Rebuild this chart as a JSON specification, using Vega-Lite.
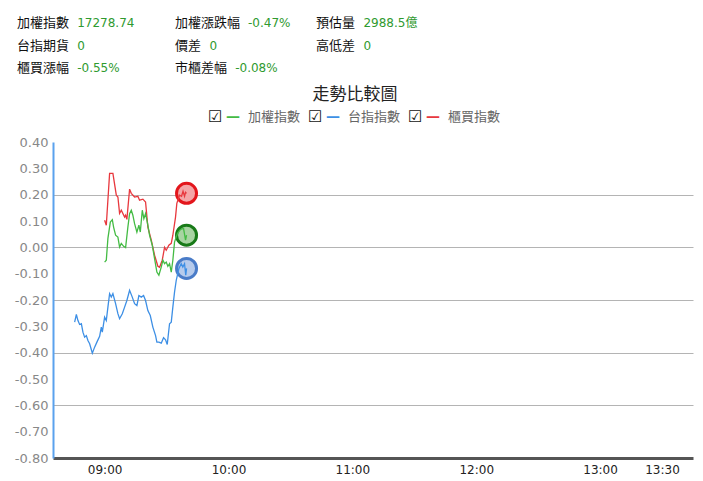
{
  "$schema": "https://vega.github.io/schema/vega-lite/v6.json",
  "autosize": "none",
  "width": 640,
  "height": 316,
  "padding": {"left": 53, "top": 142, "right": 10, "bottom": 23},
  "background": "white",
  "title": {
    "text": "走勢比較圖",
    "font": "Noto Sans CJK TC",
    "fontSize": 17,
    "fontWeight": "normal",
    "color": "#222",
    "anchor": "middle",
    "frame": "group",
    "dx": -18,
    "offset": 30,
    "dy": 117
  },
  "datasets": {
    "trend": [
      {"series": "櫃買指數", "t": "09:00:00", "v": 0.103},
      {"series": "櫃買指數", "t": "09:00:49", "v": 0.084},
      {"series": "櫃買指數", "t": "09:02:25", "v": 0.281},
      {"series": "櫃買指數", "t": "09:04:01", "v": 0.281},
      {"series": "櫃買指數", "t": "09:05:40", "v": 0.198},
      {"series": "櫃買指數", "t": "09:06:26", "v": 0.191},
      {"series": "櫃買指數", "t": "09:07:15", "v": 0.129},
      {"series": "櫃買指數", "t": "09:08:05", "v": 0.141},
      {"series": "櫃買指數", "t": "09:09:41", "v": 0.115},
      {"series": "櫃買指數", "t": "09:10:10", "v": 0.122},
      {"series": "櫃買指數", "t": "09:10:47", "v": 0.106},
      {"series": "櫃買指數", "t": "09:12:06", "v": 0.221},
      {"series": "櫃買指數", "t": "09:12:55", "v": 0.205},
      {"series": "櫃買指數", "t": "09:14:31", "v": 0.191},
      {"series": "櫃買指數", "t": "09:16:07", "v": 0.194},
      {"series": "櫃買指數", "t": "09:16:56", "v": 0.179},
      {"series": "櫃買指數", "t": "09:18:32", "v": 0.183},
      {"series": "櫃買指數", "t": "09:19:50", "v": 0.172},
      {"series": "櫃買指數", "t": "09:20:57", "v": 0.077},
      {"series": "櫃買指數", "t": "09:22:36", "v": 0.027},
      {"series": "櫃買指數", "t": "09:24:12", "v": -0.030},
      {"series": "櫃買指數", "t": "09:25:48", "v": -0.072},
      {"series": "櫃買指數", "t": "09:26:37", "v": -0.076},
      {"series": "櫃買指數", "t": "09:27:55", "v": -0.049},
      {"series": "櫃買指數", "t": "09:29:02", "v": 0.000},
      {"series": "櫃買指數", "t": "09:29:51", "v": -0.011},
      {"series": "櫃買指數", "t": "09:31:07", "v": 0.008},
      {"series": "櫃買指數", "t": "09:32:17", "v": 0.015},
      {"series": "櫃買指數", "t": "09:33:03", "v": 0.046},
      {"series": "櫃買指數", "t": "09:34:21", "v": 0.115},
      {"series": "櫃買指數", "t": "09:34:59", "v": 0.167},
      {"series": "櫃買指數", "t": "09:36:17", "v": 0.198},
      {"series": "櫃買指數", "t": "09:37:16", "v": 0.194},
      {"series": "櫃買指數", "t": "09:37:59", "v": 0.213},
      {"series": "櫃買指數", "t": "09:38:43", "v": 0.194},
      {"series": "櫃買指數", "t": "09:39:12", "v": 0.209},
      {"series": "櫃買指數", "t": "09:39:41", "v": 0.205},
      {"series": "加權指數", "t": "09:00:00", "v": -0.056},
      {"series": "加權指數", "t": "09:00:49", "v": -0.049},
      {"series": "加權指數", "t": "09:01:36", "v": 0.034},
      {"series": "加權指數", "t": "09:02:46", "v": 0.096},
      {"series": "加權指數", "t": "09:03:44", "v": 0.105},
      {"series": "加權指數", "t": "09:04:21", "v": 0.077},
      {"series": "加權指數", "t": "09:05:19", "v": 0.046},
      {"series": "加權指數", "t": "09:06:26", "v": 0.039},
      {"series": "加權指數", "t": "09:07:15", "v": 0.001},
      {"series": "加權指數", "t": "09:08:05", "v": 0.015},
      {"series": "加權指數", "t": "09:09:12", "v": 0.004},
      {"series": "加權指數", "t": "09:10:10", "v": -0.001},
      {"series": "加權指數", "t": "09:11:16", "v": 0.077},
      {"series": "加權指數", "t": "09:12:06", "v": 0.128},
      {"series": "加權指數", "t": "09:12:55", "v": 0.141},
      {"series": "加權指數", "t": "09:13:41", "v": 0.122},
      {"series": "加權指數", "t": "09:14:31", "v": 0.090},
      {"series": "加權指數", "t": "09:15:38", "v": 0.058},
      {"series": "加權指數", "t": "09:16:36", "v": 0.084},
      {"series": "加權指數", "t": "09:17:17", "v": 0.058},
      {"series": "加權指數", "t": "09:18:15", "v": 0.141},
      {"series": "加權指數", "t": "09:19:01", "v": 0.109},
      {"series": "加權指數", "t": "09:19:50", "v": 0.128},
      {"series": "加權指數", "t": "09:20:57", "v": 0.084},
      {"series": "加權指數", "t": "09:21:46", "v": 0.046},
      {"series": "加權指數", "t": "09:23:05", "v": 0.008},
      {"series": "加權指數", "t": "09:24:12", "v": -0.043},
      {"series": "加權指數", "t": "09:25:19", "v": -0.094},
      {"series": "加權指數", "t": "09:26:17", "v": -0.106},
      {"series": "加權指數", "t": "09:27:26", "v": -0.075},
      {"series": "加權指數", "t": "09:28:13", "v": -0.049},
      {"series": "加權指數", "t": "09:29:02", "v": -0.062},
      {"series": "加權指數", "t": "09:29:51", "v": -0.056},
      {"series": "加權指數", "t": "09:30:38", "v": -0.072},
      {"series": "加權指數", "t": "09:31:27", "v": -0.062},
      {"series": "加權指數", "t": "09:32:17", "v": -0.094},
      {"series": "加權指數", "t": "09:33:03", "v": -0.049},
      {"series": "加權指數", "t": "09:33:52", "v": 0.020},
      {"series": "加權指數", "t": "09:35:19", "v": 0.053},
      {"series": "加權指數", "t": "09:36:47", "v": 0.068},
      {"series": "加權指數", "t": "09:38:14", "v": 0.072},
      {"series": "加權指數", "t": "09:39:12", "v": 0.027},
      {"series": "加權指數", "t": "09:39:41", "v": 0.046},
      {"series": "台指指數", "t": "08:45:29", "v": -0.284},
      {"series": "台指指數", "t": "08:46:19", "v": -0.255},
      {"series": "台指指數", "t": "08:47:05", "v": -0.278},
      {"series": "台指指數", "t": "08:47:54", "v": -0.293},
      {"series": "台指指數", "t": "08:48:44", "v": -0.290},
      {"series": "台指指數", "t": "08:49:30", "v": -0.322},
      {"series": "台指指數", "t": "08:50:19", "v": -0.341},
      {"series": "台指指數", "t": "08:51:09", "v": -0.335},
      {"series": "台指指數", "t": "08:51:55", "v": -0.354},
      {"series": "台指指數", "t": "08:52:45", "v": -0.366},
      {"series": "台指指數", "t": "08:54:03", "v": -0.402},
      {"series": "台指指數", "t": "08:55:10", "v": -0.379},
      {"series": "台指指數", "t": "08:56:16", "v": -0.360},
      {"series": "台指指數", "t": "08:57:35", "v": -0.338},
      {"series": "台指指數", "t": "08:58:24", "v": -0.303},
      {"series": "台指指數", "t": "08:58:53", "v": -0.322},
      {"series": "台指指數", "t": "09:00:00", "v": -0.265},
      {"series": "台指指數", "t": "09:00:49", "v": -0.278},
      {"series": "台指指數", "t": "09:01:36", "v": -0.227},
      {"series": "台指指數", "t": "09:02:25", "v": -0.176},
      {"series": "台指指數", "t": "09:03:14", "v": -0.189},
      {"series": "台指指數", "t": "09:04:01", "v": -0.176},
      {"series": "台指指數", "t": "09:05:19", "v": -0.214},
      {"series": "台指指數", "t": "09:06:26", "v": -0.252},
      {"series": "台指指數", "t": "09:07:15", "v": -0.271},
      {"series": "台指指數", "t": "09:08:34", "v": -0.252},
      {"series": "台指指數", "t": "09:09:41", "v": -0.227},
      {"series": "台指指數", "t": "09:10:47", "v": -0.202},
      {"series": "台指指數", "t": "09:12:06", "v": -0.163},
      {"series": "台指指數", "t": "09:13:24", "v": -0.189},
      {"series": "台指指數", "t": "09:14:31", "v": -0.214},
      {"series": "台指指數", "t": "09:15:38", "v": -0.221},
      {"series": "台指指數", "t": "09:16:36", "v": -0.183},
      {"series": "台指指數", "t": "09:17:46", "v": -0.189},
      {"series": "台指指數", "t": "09:18:52", "v": -0.183},
      {"series": "台指指數", "t": "09:19:50", "v": -0.202},
      {"series": "台指指數", "t": "09:20:57", "v": -0.240},
      {"series": "台指指數", "t": "09:22:07", "v": -0.259},
      {"series": "台指指數", "t": "09:23:22", "v": -0.303},
      {"series": "台指指數", "t": "09:24:41", "v": -0.335},
      {"series": "台指指數", "t": "09:25:19", "v": -0.360},
      {"series": "台指指數", "t": "09:26:17", "v": -0.360},
      {"series": "台指指數", "t": "09:27:26", "v": -0.364},
      {"series": "台指指數", "t": "09:28:33", "v": -0.343},
      {"series": "台指指數", "t": "09:29:31", "v": -0.351},
      {"series": "台指指數", "t": "09:30:20", "v": -0.369},
      {"series": "台指指數", "t": "09:31:27", "v": -0.290},
      {"series": "台指指數", "t": "09:32:17", "v": -0.284},
      {"series": "台指指數", "t": "09:33:03", "v": -0.227},
      {"series": "台指指數", "t": "09:33:52", "v": -0.170},
      {"series": "台指指數", "t": "09:34:42", "v": -0.125},
      {"series": "台指指數", "t": "09:35:57", "v": -0.081},
      {"series": "台指指數", "t": "09:37:07", "v": -0.062},
      {"series": "台指指數", "t": "09:37:53", "v": -0.075},
      {"series": "台指指數", "t": "09:38:43", "v": -0.062},
      {"series": "台指指數", "t": "09:39:18", "v": -0.106},
      {"series": "台指指數", "t": "09:39:41", "v": -0.080}
    ],
    "header": [
      {"row": 0, "col": 0, "label": "加權指數", "value": "17278.74"},
      {"row": 0, "col": 1, "label": "加權漲跌幅", "value": "-0.47%"},
      {"row": 0, "col": 2, "label": "預估量", "value": "2988.5億"},
      {"row": 1, "col": 0, "label": "台指期貨", "value": "0"},
      {"row": 1, "col": 1, "label": "價差", "value": "0"},
      {"row": 1, "col": 2, "label": "高低差", "value": "0"},
      {"row": 2, "col": 0, "label": "櫃買漲幅", "value": "-0.55%"},
      {"row": 2, "col": 1, "label": "市櫃差幅", "value": "-0.08%"}
    ]
  },
  "resolve": {"scale": {"x": "independent", "y": "independent"}},
  "layer": [
    {
      "data": {"name": "trend", "format": {"parse": {"t": "date:'%H:%M:%S'"}}},
      "encoding": {
        "x": {
          "field": "t",
          "type": "temporal",
          "scale": {
            "domain": [
              {"year": 1900, "month": 1, "date": 1, "hours": 8, "minutes": 35},
              {"year": 1900, "month": 1, "date": 1, "hours": 13, "minutes": 45}
            ]
          },
          "axis": {
            "title": null,
            "values": [
              {"year": 1900, "month": 1, "date": 1, "hours": 9, "minutes": 0},
              {"year": 1900, "month": 1, "date": 1, "hours": 10, "minutes": 0},
              {"year": 1900, "month": 1, "date": 1, "hours": 11, "minutes": 0},
              {"year": 1900, "month": 1, "date": 1, "hours": 12, "minutes": 0},
              {"year": 1900, "month": 1, "date": 1, "hours": 13, "minutes": 0},
              {"year": 1900, "month": 1, "date": 1, "hours": 13, "minutes": 30}
            ],
            "format": "%H:%M",
            "ticks": false,
            "grid": false,
            "domainColor": "#555",
            "domainWidth": 3,
            "labelColor": "#222",
            "labelFont": "DejaVu Sans",
            "labelFontSize": 12,
            "labelPadding": 6,
            "labelOverlap": false,
            "labelFlush": false
          }
        },
        "y": {
          "field": "v",
          "type": "quantitative",
          "scale": {"domain": [-0.8, 0.4], "nice": false, "zero": false},
          "axis": {
            "title": null,
            "values": [0.4, 0.3, 0.2, 0.1, 0, -0.1, -0.2, -0.3, -0.4, -0.5, -0.6, -0.7, -0.8],
            "format": ".2f",
            "labelExpr": "replace(datum.label, '−', '-')",
            "ticks": false,
            "domainColor": "#5aa2ee",
            "domainWidth": 2,
            "labelColor": "#888",
            "labelFont": "DejaVu Sans",
            "labelFontSize": 13,
            "labelPadding": 5,
            "grid": true,
            "gridColor": "#b4b4b4",
            "gridOpacity": {
              "condition": {"test": "round(datum.value * 10) % 2 === 0 && datum.value < 0.35 && datum.value > -0.75", "value": 1},
              "value": 0
            }
          }
        }
      },
      "layer": [
        {
          "transform": [
            {"joinaggregate": [{"op": "max", "field": "t", "as": "tmax"}], "groupby": ["series"]},
            {"filter": "time(datum.t) === time(datum.tmax)"}
          ],
          "mark": {"type": "point", "filled": true, "size": 400, "strokeWidth": 3, "fillOpacity": 1, "strokeOpacity": 1},
          "encoding": {
            "fill": {
              "field": "series",
              "type": "nominal",
              "scale": {"domain": ["加權指數", "台指指數", "櫃買指數"], "range": ["#a8d4a2", "#b6cbec", "#f4a6a8"]},
              "legend": null
            },
            "stroke": {
              "field": "series",
              "type": "nominal",
              "scale": {"domain": ["加權指數", "台指指數", "櫃買指數"], "range": ["#187a18", "#4a7cc8", "#e3161c"]},
              "legend": null
            }
          }
        },
        {
          "mark": {"type": "line", "strokeWidth": 1.3},
          "encoding": {
            "color": {
              "field": "series",
              "type": "nominal",
              "scale": {"domain": ["加權指數", "台指指數", "櫃買指數"], "range": ["#44bb44", "#3d8fe5", "#e8383e"]},
              "legend": null
            }
          }
        }
      ]
    },
    {
      "data": {"name": "header"},
      "encoding": {
        "x": {"field": "col", "type": "quantitative", "scale": {"domain": [0, 1, 2], "range": [-36, 122, 263], "zero": false, "nice": false}, "axis": null},
        "y": {"field": "row", "type": "quantitative", "scale": {"domain": [0, 2], "range": [-119, -74], "zero": false, "nice": false}, "axis": null}
      },
      "layer": [
        {
          "mark": {"type": "text", "align": "left", "baseline": "middle", "font": "Noto Sans CJK TC", "fontSize": 13, "color": "#111"},
          "encoding": {"text": {"field": "label"}}
        },
        {
          "mark": {"type": "text", "align": "left", "baseline": "middle", "font": "DejaVu Sans, Noto Sans CJK TC", "fontSize": 12, "color": "#2f9a2f", "dx": {"expr": "length(datum.label) * 12.8 + 9"}},
          "encoding": {"text": {"field": "value"}}
        }
      ]
    },
    {
      "data": {"name": "trend"},
      "transform": [{"aggregate": [{"op": "count", "as": "n"}], "groupby": ["series"]}],
      "encoding": {
        "x": {
          "field": "series",
          "type": "nominal",
          "scale": {"type": "point", "domain": ["加權指數", "台指指數", "櫃買指數"], "range": [155, 355], "padding": 0},
          "axis": null
        },
        "y": {"value": -25}
      },
      "layer": [
        {"mark": {"type": "text", "text": "☑", "align": "left", "baseline": "middle", "font": "DejaVu Sans", "fontSize": 16, "fontWeight": "bold", "color": "#111"}},
        {
          "mark": {"type": "text", "text": "—", "align": "left", "baseline": "middle", "font": "DejaVu Sans", "fontSize": 14, "fontWeight": "bold", "dx": 18},
          "encoding": {
            "color": {
              "field": "series",
              "type": "nominal",
              "scale": {"domain": ["加權指數", "台指指數", "櫃買指數"], "range": ["#44bb44", "#3d8fe5", "#e8383e"]},
              "legend": null
            }
          }
        },
        {
          "mark": {"type": "text", "align": "left", "baseline": "middle", "font": "Noto Sans CJK TC", "fontSize": 13, "color": "#666", "dx": 40},
          "encoding": {"text": {"field": "series"}}
        }
      ]
    }
  ],
  "config": {"view": {"stroke": null}}
}
